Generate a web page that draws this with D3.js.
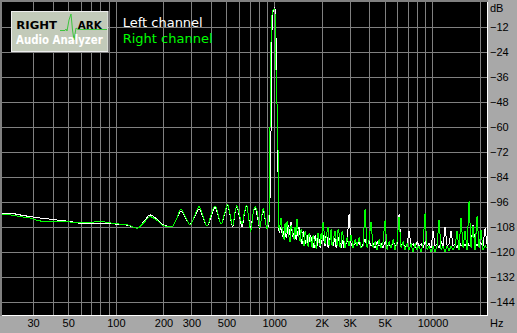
<!DOCTYPE html>
<html>
<head>
<meta charset="utf-8">
<script src="https://cdn.jsdelivr.net/npm/d3@7"></script>
<style>
  body { margin: 0; background: #a8a8a8; }
  svg { display: block; }
</style>
</head>
<body>
<div id="spectrum"></div>
<script>
// 20 Hz .. 1.07 kHz : noise floor, ripple and the 1 kHz tone
const freqLow = [
  19.1, 21.5, 24.8, 28.7, 33.2, 38.3, 44.4, 51.4, 59.4, 68.7,
  79.5, 91.9, 100, 106.3, 119.4, 128, 136, 150, 164.5, 180,
  196, 210, 226, 242, 258, 275, 294, 315, 335.5, 356,
  376.7, 400, 423.4, 443, 462, 486, 509, 528, 547.6, 564,
  580, 604, 627, 649, 671, 691, 711.6, 735, 757.5, 784,
  811, 833, 855, 878, 902, 927, 952, 970, 989, 1013,
  1028, 1054, 1074
];
const leftLow = [
  -101.4, -101.4, -102.2, -103, -103.7, -104.2, -104.8, -105.4, -106.2, -106.5,
  -106.3, -106.2, -106.6, -106.8, -107.2, -108, -108.6, -105.5, -102.2, -104,
  -106.7, -107.5, -107.8, -104, -100.3, -103.5, -106.7, -103, -99.5, -103.5,
  -107.5, -103, -98.5, -102.5, -106.7, -102, -97.5, -103, -107.8, -102,
  -98, -103, -107.8, -101.5, -97.8, -104, -108.5, -102, -99, -103,
  -108.6, -103, -100.3, -104.5, -109, -106, -75, -12, -4, -2.5,
  -17.8, -75, -111
];
const rightLow = [
  -102.2, -102.2, -103, -103.7, -105.1, -105.4, -105.4, -105.6, -105.8, -105.8,
  -105.3, -106, -106.4, -106.6, -107, -108, -108.6, -106, -103, -104.5,
  -107, -107.8, -108, -104, -99.5, -103, -107, -102.5, -98.2, -103,
  -107.5, -102, -97.8, -102, -106.7, -101.5, -97.1, -102.5, -107.5, -101.5,
  -97.8, -102, -106.5, -101, -97.4, -104, -110.2, -102, -98.2, -101,
  -108.6, -103, -99, -104.5, -109, -103, -25.4, -5.8, -3.8, -3.8,
  -33.6, -62, -110
];

// 1.1 kHz .. 22 kHz : noise with harmonics
const freqHigh = [
  1106, 1138, 1172, 1207, 1242, 1279, 1317, 1355, 1395, 1437,
  1479, 1523, 1568, 1614, 1661, 1710, 1761, 1813, 1866, 1922,
  1978, 2037, 2097, 2159, 2222, 2288, 2355, 2425, 2497, 2570,
  2646, 2724, 2805, 2887, 2973, 3060, 3151, 3244, 3339, 3438,
  3539, 3644, 3751, 3862, 3976, 4093, 4214, 4338, 4466, 4598,
  4734, 4874, 5018, 5166, 5318, 5475, 5637, 5803, 5974, 6150,
  6332, 6519, 6711, 6909, 7113, 7323, 7539, 7762, 7991, 8227,
  8470, 8719, 8977, 9242, 9514, 9795, 10084, 10382, 10688, 11004,
  11329, 11663, 12007, 12361, 12726, 13102, 13489, 13887, 14297, 14719,
  15153, 15600, 16061, 16535, 17023, 17525, 18042, 18575, 19123, 19687,
  20268, 20866, 21482, 22100
];
const leftHigh = [
  -108, -113, -107, -111, -109, -105.4, -113, -109, -112, -108,
  -114, -110, -116, -112, -115, -113, -116, -112, -117, -114,
  -116, -112, -117, -113, -116, -114, -117, -113, -116, -115,
  -118, -114, -117, -115, -102, -116, -118, -115, -117, -115,
  -118, -116, -114, -117, -115, -117, -116, -118, -115, -117,
  -116, -118, -115, -117, -116, -118, -115, -117, -116, -102,
  -117, -115, -118, -116, -110, -117, -116, -118, -115, -117,
  -116, -118, -115, -117, -116, -118, -110, -117, -116, -118,
  -115, -117, -108, -117, -116, -110, -117, -116, -118, -115,
  -117, -116, -117, -115, -117, -116, -107, -116, -117, -115,
  -116, -117, -108.7, -116
];
const rightHigh = [
  -103.5, -112, -106, -105, -113, -107, -112, -108, -104, -113,
  -109, -115, -110, -116, -111, -115, -112, -117, -113, -116,
  -111, -105.7, -116, -110, -117, -109, -115, -110, -117, -111,
  -116, -112, -118, -113, -117, -112, -118, -114, -117, -113,
  -118, -117, -99.5, -118, -114, -105.5, -118, -115, -119, -114,
  -118, -115, -104.6, -119, -115, -118, -114, -119, -115, -103,
  -118, -115, -119, -116, -119, -116, -120, -116, -119, -117,
  -120, -116, -101.4, -119, -117, -120, -117, -120, -117, -104.6,
  -119, -117, -120, -117, -119.5, -117, -119, -117, -110, -119,
  -103.5, -118, -110, -119, -95.5, -118, -107.5, -119, -102.7, -118,
  -109.5, -119, -117, -118
];

// extra bins in the dense 1.1 .. 2.8 kHz noise
const freqMid = [
  1122, 1155, 1189, 1224, 1260, 1298, 1336, 1375, 1416, 1458,
  1501, 1545, 1591, 1638, 1686, 1736, 1787, 1840, 1894, 1950,
  2007, 2067, 2127, 2190, 2255, 2321, 2390, 2460, 2533, 2608,
  2685, 2764
];
const leftMid = [
  -111, -110, -113, -107, -112, -110, -111, -114, -110, -112,
  -116, -113, -114, -117, -112, -115, -118, -115, -112, -118,
  -114, -115, -112, -118, -113, -116, -115, -118, -113, -116,
  -116, -118
];
const rightMid = [
  -109, -114, -111, -108, -115, -109, -114, -112, -109, -115,
  -111, -117, -112, -117, -113, -118, -114, -118, -111, -117,
  -114, -110, -113, -108, -114, -117, -112, -114, -109, -118,
  -110, -115
];

const gridFreqs = [30, 40, 50, 60, 70, 80, 90, 100, 200, 300, 400, 500, 600, 700, 800, 900,
  1000, 2000, 3000, 4000, 5000, 6000, 7000, 8000, 9000, 10000, 20000];
const labelFreqs = [30, 50, 100, 200, 300, 500, 1000, 2000, 3000, 5000, 10000];
const labelTexts = ["30", "50", "100", "200", "300", "500", "1000", "2K", "3K", "5K", "10000"];
const dbTicks = [-12, -24, -36, -48, -60, -72, -84, -96, -108, -120, -132, -144];

const size = { x: 517, y: 333 };
const plot = { left: 2, right: 487, top: 2, bottom: 314.5 };

const pairs = (fs, vs) => fs.map((f, i) => [f, vs[i]]);

const leftLowPts = pairs(freqLow, leftLow);
const rightLowPts = pairs(freqLow, rightLow);
const leftHighPts = [leftLowPts[leftLowPts.length - 1]]
  .concat(d3.sort(pairs(freqHigh, leftHigh).concat(pairs(freqMid, leftMid)), d => d[0]));
const rightHighPts = [rightLowPts[rightLowPts.length - 1]]
  .concat(d3.sort(pairs(freqHigh, rightHigh).concat(pairs(freqMid, rightMid)), d => d[0]));

const xScale = d3.scaleLog().domain([19.1, 22100]).range([plot.left, plot.right]);
const yScale = d3.scaleLinear().domain([0, -150]).range([plot.top, plot.bottom]);

const svg = d3.select("#spectrum")
  .append("svg")
  .attr("width", size.x)
  .attr("height", size.y);

svg.append("rect")
  .attr("width", size.x).attr("height", size.y)
  .attr("fill", "#a8a8a8");

svg.append("rect")
  .attr("x", plot.left).attr("y", plot.top)
  .attr("width", plot.right - plot.left).attr("height", 313)
  .attr("fill", "#000");

// grid
svg.append("g")
  .attr("transform", `translate(0, ${plot.top})`)
  .call(d3.axisBottom(xScale).tickValues(gridFreqs).tickSize(313).tickFormat(""))
  .call(g => g.select(".domain").remove())
  .call(g => g.selectAll("line").attr("stroke", "#808080").attr("shape-rendering", "crispEdges"));

svg.append("g")
  .attr("transform", `translate(${plot.left}, 0)`)
  .call(d3.axisRight(yScale).tickValues(dbTicks).tickSize(plot.right - plot.left).tickFormat(""))
  .call(g => g.select(".domain").remove())
  .call(g => g.selectAll("line").attr("stroke", "#808080").attr("shape-rendering", "crispEdges"));

// borders
svg.append("rect").attr("x", 0).attr("y", 0).attr("width", 488).attr("height", 2).attr("fill", "#808080");
svg.append("rect").attr("x", 0).attr("y", 0).attr("width", 2).attr("height", 316).attr("fill", "#808080");
svg.append("rect").attr("x", plot.left).attr("y", 315).attr("width", 486).attr("height", 1).attr("fill", "#fff");
svg.append("rect").attr("x", 487).attr("y", plot.top).attr("width", 1).attr("height", 314).attr("fill", "#fff");

// traces: smooth ripple below 1 kHz, raw bins above
const smooth = d3.line()
  .x(d => xScale(d[0]))
  .y(d => yScale(d[1]))
  .curve(d3.curveMonotoneX);

const raw = d3.line()
  .x(d => xScale(d[0]))
  .y(d => yScale(d[1]));

const traces = [
  { low: leftLowPts, high: leftHighPts, color: "#ffffff" },
  { low: rightLowPts, high: rightHighPts, color: "#00ff00" }
];

traces.forEach(t => {
  svg.append("path")
    .datum(t.low)
    .attr("d", smooth)
    .attr("fill", "none")
    .attr("stroke", t.color)
    .attr("stroke-width", 1)
    .attr("shape-rendering", "crispEdges");

  svg.append("path")
    .datum(t.high)
    .attr("d", raw)
    .attr("fill", "none")
    .attr("stroke", t.color)
    .attr("stroke-width", 1)
    .attr("shape-rendering", "crispEdges");
});

// axis labels
svg.append("g")
  .attr("transform", `translate(0, 315)`)
  .call(d3.axisBottom(xScale).tickValues(labelFreqs).tickSize(0).tickPadding(4)
    .tickFormat((d, i) => labelTexts[i]))
  .call(g => g.select(".domain").remove())
  .call(g => g.selectAll("text")
    .attr("fill", "#000")
    .attr("font-family", "Liberation Sans, Arial, sans-serif")
    .attr("font-size", 11));

svg.append("g")
  .attr("transform", `translate(${plot.right}, 0)`)
  .call(d3.axisRight(yScale).tickValues(dbTicks).tickSize(0).tickPadding(3))
  .call(g => g.select(".domain").remove())
  .call(g => g.selectAll("text")
    .attr("fill", "#000")
    .attr("font-family", "Liberation Sans, Arial, sans-serif")
    .attr("font-size", 11));

svg.append("text")
  .text("dB")
  .attr("x", 490).attr("y", 12)
  .attr("font-family", "Liberation Sans, Arial, sans-serif")
  .attr("font-size", 11);

svg.append("text")
  .text("Hz")
  .attr("x", 490).attr("y", 327)
  .attr("font-family", "Liberation Sans, Arial, sans-serif")
  .attr("font-size", 11);

// logo
const logo = svg.append("g");
logo.append("rect")
  .attr("x", 11.5).attr("y", 11.5)
  .attr("width", 96.5).attr("height", 40)
  .attr("fill", "#c2cab9")
  .attr("stroke", "#eeeeee");

logo.append("path")
  .attr("d", "M60,30.5 L65,30.5 L66,29 L67,31 L69,20 L71,14 L72.5,30 L74,40 L76,28 L78,29.5 L107,29.5")
  .attr("fill", "none")
  .attr("stroke", "#3cc43c")
  .attr("stroke-width", 1);

logo.append("text")
  .text("RIGHT")
  .attr("x", 16.3).attr("y", 29.3)
  .attr("textLength", 40.7).attr("lengthAdjust", "spacingAndGlyphs")
  .attr("font-family", "DejaVu Sans, sans-serif")
  .attr("font-weight", "bold")
  .attr("font-size", 11)
  .attr("fill", "#000");

logo.append("text")
  .text("ARK")
  .attr("x", 77.7).attr("y", 29.3)
  .attr("textLength", 24).attr("lengthAdjust", "spacingAndGlyphs")
  .attr("font-family", "DejaVu Sans, sans-serif")
  .attr("font-weight", "bold")
  .attr("font-size", 11)
  .attr("fill", "#000");

logo.append("text")
  .text("Audio Analyzer")
  .attr("x", 16).attr("y", 44.3)
  .attr("textLength", 86.7).attr("lengthAdjust", "spacingAndGlyphs")
  .attr("font-family", "DejaVu Sans, sans-serif")
  .attr("font-weight", "bold")
  .attr("font-size", 11.5)
  .attr("fill", "#fff");

// legend
svg.append("text")
  .text("Left channel")
  .attr("x", 122.7).attr("y", 26.7)
  .attr("font-family", "DejaVu Sans, sans-serif")
  .attr("font-size", 13)
  .attr("fill", "#fff");

svg.append("text")
  .text("Right channel")
  .attr("x", 122.7).attr("y", 42.7)
  .attr("font-family", "DejaVu Sans, sans-serif")
  .attr("font-size", 13)
  .attr("fill", "#00ff00");
</script>
</body>
</html>
